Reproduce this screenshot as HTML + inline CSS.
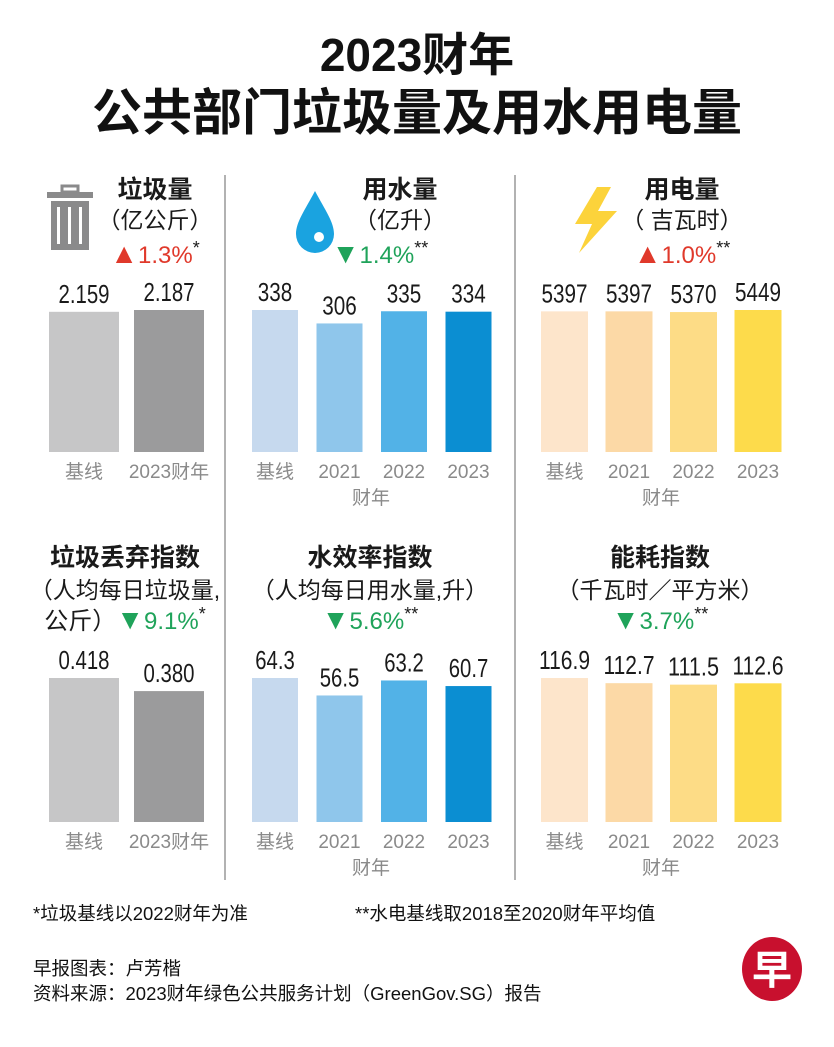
<!DOCTYPE html>
<html><head><meta charset="utf-8"><style>
body{margin:0;background:#fff}
svg{display:block}
.t{font-family:"Liberation Sans","Noto Sans CJK SC",sans-serif}
</style></head><body>
<svg id="c" width="834" height="1047" viewBox="0 0 834 1047" xmlns="http://www.w3.org/2000/svg">
<rect width="834" height="1047" fill="#fff"/>
<g class="t" font-weight="bold" fill="#111" text-anchor="middle">
<text x="417" y="71" font-size="46">2023财年</text>
<text x="417" y="130" font-size="50">公共部门垃圾量及用水用电量</text>
</g>
<line x1="225" y1="175" x2="225" y2="880" stroke="#999" stroke-width="1.5"/>
<line x1="515" y1="175" x2="515" y2="880" stroke="#999" stroke-width="1.5"/>
<g fill="#8a8a8b">
<rect x="47" y="192" width="46" height="6"/><rect x="62" y="186" width="16" height="6" fill="none" stroke="#8a8a8b" stroke-width="3"/>
<rect x="51" y="201" width="38" height="49"/>
<rect x="57" y="207" width="3" height="37" fill="#fff"/><rect x="68" y="207" width="3" height="37" fill="#fff"/><rect x="79" y="207" width="3" height="37" fill="#fff"/>
</g>
<g>
<path d="M315 191 C305 210 296 222 296 234 A19 19 0 0 0 334 234 C334 222 325 210 315 191 Z" fill="#1aa3e0"/>
<circle cx="319" cy="237" r="5" fill="#fff"/>
</g>
<g>
<path d="M597 187 L575 224 L592 224 L579 253 L617 211 L598 211 L611 187 Z" fill="#fcd33b"/>
</g>
<g class="t" text-anchor="middle" id="heads"></g>
<g id="bars"></g>
<g class="t" font-size="18.5" fill="#111">
<text x="33" y="920">*垃圾基线以2022财年为准</text>
<text x="355" y="920">**水电基线取2018至2020财年平均值</text>
<text x="33" y="975">早报图表：卢芳楷</text>
<text x="33" y="1000">资料来源：2023财年绿色公共服务计划（GreenGov.SG）报告</text>
</g>
<g>
<ellipse cx="772" cy="969" rx="30" ry="32" fill="#c8102e"/>
<text class="t" x="772" y="984" font-size="40" font-weight="bold" fill="#fff" text-anchor="middle">早</text>
</g>
</svg>
<script>
const NS="http://www.w3.org/2000/svg";
const wasteCats=["基线","2023财年"];
const yearCats=["基线","2021","2022","2023"];
const wasteAmt=[2.159,2.187];
const waterAmt=[338,306,335,334];
const elecAmt=[5397,5397,5370,5449];
const wasteIdx=[0.418,0.380];
const waterIdx=[64.3,56.5,63.2,60.7];
const elecIdx=[116.9,112.7,111.5,112.6];
const wasteLbl=["2.159","2.187"];
const waterLbl=["338","306","335","334"];
const elecLbl=["5397","5397","5370","5449"];
const wasteIdxLbl=["0.418","0.380"];
const waterIdxLbl=["64.3","56.5","63.2","60.7"];
const elecIdxLbl=["116.9","112.7","111.5","112.6"];
const grey=["#c6c6c7","#9b9b9c"],blue=["#c6d9ee","#8fc6eb","#52b2e7","#0b8ed2"],yel=["#fde5cb","#fcd9a6","#fddc86","#fddb4b"];
const barsG=document.getElementById('bars');
function mk(tag,attrs,parent){const e=document.createElementNS(NS,tag);for(const k in attrs)e.setAttribute(k,attrs[k]);(parent||barsG).appendChild(e);return e;}
function chart(name,vals,lbls,cats,colors,x0,bw,gap,bottom,maxH,fy){
  const mx=Math.max(...vals);
  const y=v=>bottom-v/mx*maxH;
  vals.forEach((v,i)=>{
    const x=x0+i*(bw+gap);
    const r=mk('rect',{x:x,y:y(v),width:bw,height:bottom-y(v),fill:colors[i]});
    
    
    const s=lbls[i];
    const w=s.replace('.','').length*11.5+(s.includes('.')?5:0);
    const t=mk('text',{x:x+bw/2,y:y(v)-9,'text-anchor':'middle','font-size':26,fill:'#1a1a1a','font-family':'"Liberation Sans",sans-serif',textLength:w,lengthAdjust:'spacingAndGlyphs'});
    t.textContent=s;
    
    
    const c=mk('text',{x:x+bw/2,y:bottom+26,'text-anchor':'middle','font-size':19,fill:'#8a8a8a','font-family':'"Liberation Sans","Noto Sans CJK SC",sans-serif'});
    c.textContent=cats[i];
    
    
  });
  if(fy){const f=mk('text',{x:fy,y:bottom+52,'text-anchor':'middle','font-size':19,fill:'#8a8a8a','font-family':'"Liberation Sans","Noto Sans CJK SC",sans-serif'});
    f.textContent='财年';
    
    }
}
chart('waste-amount',wasteAmt,wasteLbl,wasteCats,grey,49,70,15,452,142,0);
chart('water-amount',waterAmt,waterLbl,yearCats,blue,252,46,18.5,452,142,371);
chart('electricity-amount',elecAmt,elecLbl,yearCats,yel,541,47,17.5,452,142,661);
chart('waste-index',wasteIdx,wasteIdxLbl,wasteCats,grey,49,70,15,822,144,0);
chart('water-index',waterIdx,waterIdxLbl,yearCats,blue,252,46,18.5,822,144,371);
chart('energy-index',elecIdx,elecIdxLbl,yearCats,yel,541,47,17.5,822,144,661);
const H=document.getElementById('heads');
function txt(name,x,y,s,size,bold){const t=mk('text',{x:x,y:y,'font-size':size,fill:'#1a1a1a','font-weight':bold?'bold':'normal','font-family':'"Liberation Sans","Noto Sans CJK SC",sans-serif','text-anchor':'middle'},H);t.innerHTML=s;}
const R='#e0392b', G='#1fa35a';
const up='<tspan fill="'+R+'" font-size="28">▲</tspan>', dn='<tspan fill="'+G+'" font-size="28">▼</tspan>';
const pct=(c,v)=>'<tspan fill="'+c+'">'+v+'</tspan>';
const st=n=>'<tspan dy="-9" font-size="18">'+n+'</tspan>';
txt('waste-title',155,198,'垃圾量',25,true);
txt('waste-unit',155,228,'（亿公斤）',23,false);
txt('waste-change',155,263,up+pct(R,'1.3%')+st('*'),24,false);
txt('water-title',400,198,'用水量',25,true);
txt('water-unit',400,228,'（亿升）',23,false);
txt('water-change',380,263,dn+pct(G,'1.4%')+st('**'),24,false);
txt('electricity-title',682,198,'用电量',25,true);
txt('electricity-unit',682,228,'（ 吉瓦时）',23,false);
txt('electricity-change',682,263,up+pct(R,'1.0%')+st('**'),24,false);
txt('waste-index-title',125,566,'垃圾丢弃指数',25,true);
txt('waste-index-unit',125,598,'（人均每日垃圾量,',23,false);
txt('waste-index-change',125,629,'公斤）'+dn+pct(G,'9.1%')+st('*'),24,false);
txt('water-index-title',370,566,'水效率指数',25,true);
txt('water-index-unit',370,598,'（人均每日用水量,升）',23,false);
txt('water-index-change',370,629,dn+pct(G,'5.6%')+st('**'),24,false);
txt('energy-index-title',660,566,'能耗指数',25,true);
txt('energy-index-unit',660,598,'（千瓦时／平方米）',23,false);
txt('energy-index-change',660,629,dn+pct(G,'3.7%')+st('**'),24,false);
</script>
</body></html>
